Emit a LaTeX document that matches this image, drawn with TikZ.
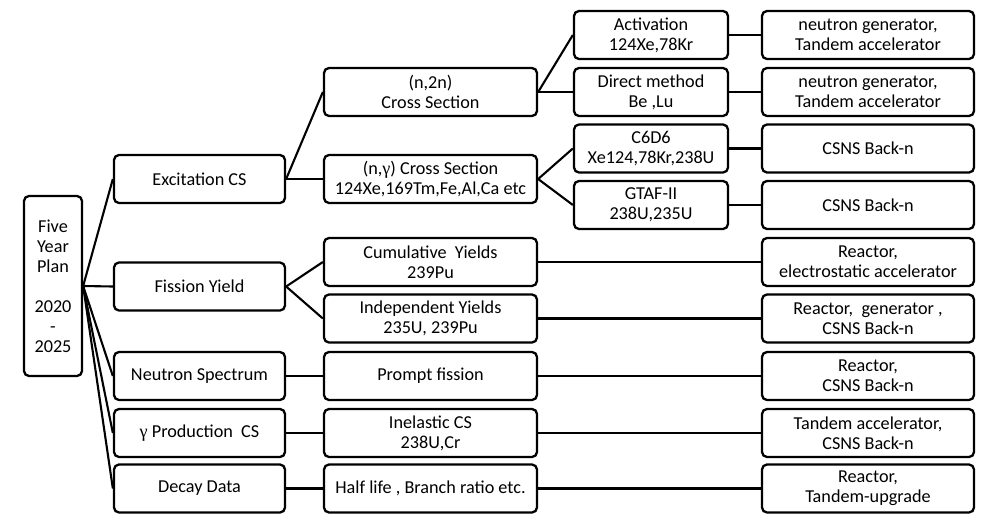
\documentclass[tikz,border=0pt]{standalone}
\usepackage{fontspec}
\setmainfont{Carlito}
\newfontfamily\grk{Liberation Serif}
\newcommand{\gm}{{\grk γ}}
\begin{document}
\begin{tikzpicture}[x=1pt,y=-1pt,
  bx/.style={draw=black,line width=2.3pt,rounded corners=5pt,fill=white,align=center,
    minimum height=48pt,inner sep=1pt,font=\fontsize{18.2}{20}\selectfont},
  lA/.style={bx,minimum width=171pt},
  lB/.style={bx,minimum width=213pt},
  lC/.style={bx,minimum width=154pt},
  lD/.style={bx,minimum width=212pt},
  cn/.style={draw=black,line width=2.1pt}]
\useasboundingbox (0,0) rectangle (984,514);
% root
\node[bx,minimum width=58pt,minimum height=180pt] (root) at (53,286)
  {Five\\Year\\Plan\\[20pt]2020\\-\\2025};
% level 1
\node[lA] (exc) at (199.5,179) {Excitation CS};
\node[lA] (fis) at (199.5,286.5) {Fission Yield};
\node[lA] (neu) at (199.5,376) {Neutron Spectrum};
\node[lA] (gam) at (199.5,433) {\gm{} Production\ \ CS};
\node[lA] (dec) at (199.5,488.5) {Decay Data};
% level 2
\node[lB] (n2n) at (430.5,92) {(n,2n)\\Cross Section};
\node[lB] (ng) at (430.5,179) {(n,\gm) Cross Section\\124Xe,169Tm,Fe,Al,Ca etc};
\node[lB] (cum) at (430.5,262) {Cumulative\ \ Yields\\239Pu};
\node[lB] (ind) at (430.5,318.5) {Independent Yields\\235U, 239Pu};
\node[lB] (pro) at (430.5,376) {Prompt fission};
\node[lB] (ine) at (430.5,433) {Inelastic CS\\238U,Cr};
\node[lB] (hal) at (430.5,488.5) {Half life , Branch ratio etc.};
% level 3
\node[lC] (act) at (651,35) {Activation\\124Xe,78Kr};
\node[lC] (dir) at (651,92) {Direct method\\Be ,Lu};
\node[lC] (c6) at (651,148.5) {C6D6\\Xe124,78Kr,238U};
\node[lC] (gt) at (651,205) {GTAF-II\\238U,235U};
% level 4
\node[lD] (r1) at (868,35) {neutron generator,\\Tandem accelerator};
\node[lD] (r2) at (868,92) {neutron generator,\\Tandem accelerator};
\node[lD] (r3) at (868,148.5) {CSNS Back-n};
\node[lD] (r4) at (868,205) {CSNS Back-n};
\node[lD] (r5) at (868,262) {Reactor,\\electrostatic accelerator};
\node[lD] (r6) at (868,318.5) {Reactor,\ \ generator ,\\CSNS Back-n};
\node[lD] (r7) at (868,376) {Reactor,\\CSNS Back-n};
\node[lD] (r8) at (868,433) {Tandem accelerator,\\CSNS Back-n};
\node[lD] (r9) at (868,488.5) {Reactor,\\Tandem-upgrade};
% connectors
\foreach \t in {exc,fis,neu,gam,dec} \draw[cn] (root.east) -- (\t.west);
\draw[cn] (exc.east) -- (n2n.west);
\draw[cn] (exc.east) -- (ng.west);
\draw[cn] (fis.east) -- (cum.west);
\draw[cn] (fis.east) -- (ind.west);
\draw[cn] (neu) -- (pro);
\draw[cn] (gam) -- (ine);
\draw[cn] (dec) -- (hal);
\draw[cn] (n2n.east) -- (act.west);
\draw[cn] (n2n.east) -- (dir.west);
\draw[cn] (ng.east) -- (c6.west);
\draw[cn] (ng.east) -- (gt.west);
\draw[cn] (act) -- (r1);
\draw[cn] (dir) -- (r2);
\draw[cn] (c6) -- (r3);
\draw[cn] (gt) -- (r4);
\draw[cn] (cum) -- (r5);
\draw[cn] (ind) -- (r6);
\draw[cn] (pro) -- (r7);
\draw[cn] (ine) -- (r8);
\draw[cn] (hal) -- (r9);
\end{tikzpicture}
\end{document}
